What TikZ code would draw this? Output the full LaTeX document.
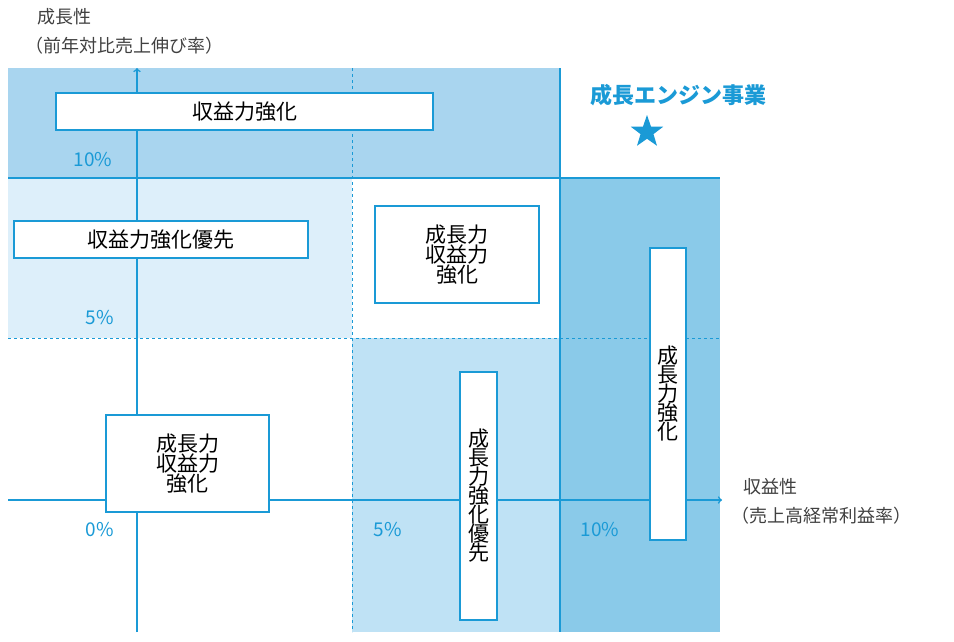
\documentclass[tikz,border=0pt]{standalone}
\usepackage{fontspec}
\setmainfont{Noto Sans CJK JP}
\usetikzlibrary{shapes.geometric}
\definecolor{lineblue}{HTML}{1A9AD6}
\definecolor{midblue}{HTML}{A9D5EF}
\definecolor{paleblue}{HTML}{DDEFFA}
\definecolor{softblue}{HTML}{BFE2F5}
\definecolor{deepblue}{HTML}{8ACAE9}
\tikzset{
  policy/.style = {draw=lineblue, line width=2.2pt, fill=white, inner sep=0pt, font=\fontsize{21}{24}\selectfont, align=center},
  pct/.style = {text=lineblue, font=\fontsize{19}{22}\selectfont},
  axislabel/.style = {text=black!75, font=\fontsize{18}{22}\selectfont, align=left},
}
\begin{document}
\begin{tikzpicture}[x=1pt, y=-1pt]
\useasboundingbox (0,0) rectangle (954,641);
% background areas
\fill[midblue] (8,68) rectangle (560,178);
\fill[paleblue] (8,178) rectangle (352,338);
\fill[softblue] (352,338) rectangle (560,632);
\fill[deepblue] (560,178) rectangle (720,632);
% grid lines
\draw[lineblue, line width=1.4pt] (8,178) -- (720,178);
\draw[lineblue, line width=1.4pt] (560,68) -- (560,632);
\draw[lineblue, line width=1pt, dashed] (352,68) -- (352,632);
\draw[lineblue, line width=1pt, dashed] (8,338) -- (720,338);
% axes
\coordinate (ybot) at (137,632);
\coordinate (ytop) at (137,68);
\coordinate (xleft) at (8,500);
\coordinate (xright) at (722,500);
\draw[lineblue, line width=1.6pt, ->] (ybot) -- (ytop);
\draw[lineblue, line width=1.6pt, ->] (xleft) -- (xright);
% policy boxes
\node[policy, minimum width=377pt, minimum height=37pt] (top) at (244.5,111.5) {収益力強化};
\node[policy, minimum width=294pt, minimum height=37pt] (left) at (161,239.5) {収益力強化優先};
\node[policy, minimum width=164pt, minimum height=97pt] (mid) at (457,254.5) {成長力\\[-4pt]収益力\\[-4pt]強化};
\node[policy, minimum width=163pt, minimum height=97pt] (low) at (187.5,463.5) {成長力\\[-4pt]収益力\\[-4pt]強化};
\node[policy, minimum width=37pt, minimum height=248pt] (vmid) at (478.5,496) {成\\[-5pt]長\\[-5pt]力\\[-5pt]強\\[-5pt]化\\[-5pt]優\\[-5pt]先};
\node[policy, minimum width=36pt, minimum height=292pt] (vright) at (668,394) {成\\[-5pt]長\\[-5pt]力\\[-5pt]強\\[-5pt]化};
% scale labels
\node[pct] (g10) at (93,160) {10\%};
\node[pct] (g5) at (100,318) {5\%};
\node[pct] (p0) at (100,530) {0\%};
\node[pct] (p5) at (388,530) {5\%};
\node[pct] (p10) at (600,530) {10\%};
% axis titles
\node[axislabel, anchor=west] (gt) at (34,17) {成長性};
\node[axislabel, anchor=west] (gs) at (22,46) {（前年対比売上伸び率）};
\node[axislabel, anchor=west] (rt) at (740,487) {収益性};
\node[axislabel, anchor=west] (rs) at (728,516) {（売上高経常利益率）};
% engine
\node[text=lineblue, font=\bfseries\fontsize{22}{26}\selectfont] (engine) at (678,95) {成長エンジン事業};
\node[star, star points=5, star point ratio=2.5, fill=lineblue, minimum size=34pt, inner sep=0pt] (mark) at (647,132) {};
\end{tikzpicture}
\end{document}
